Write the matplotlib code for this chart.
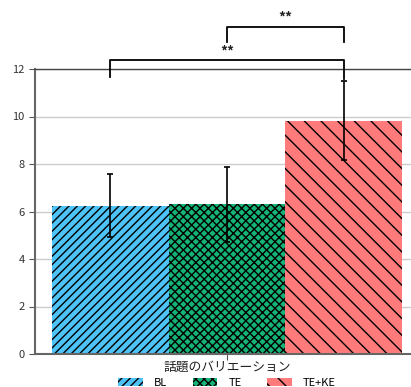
import matplotlib
matplotlib.use("Agg")
import matplotlib.pyplot as plt
from matplotlib.patches import Patch

plt.rcParams['font.family'] = ['Noto Sans CJK JP', 'DejaVu Sans']
plt.rcParams['hatch.linewidth'] = 1.0

groups = ["BL", "TE", "TE+KE"]
means = [6.25, 6.30, 9.82]
errs = [1.32, 1.58, 1.67]
colors = ["#4dc3f8", "#14b377", "#ff7b7b"]
hatches = ["////", "xxxx", "\\\\"]
xlabel = "話題のバリエーション"
yticks = [0, 2, 4, 6, 8, 10, 12]

# significance brackets: (from group, to group, bracket height, leg bottoms, label)
sig = [(0, 2, 12.38, (11.66, 11.6), "**"),
       (1, 2, 13.77, (13.14, 13.14), "**")]

fig = plt.figure(figsize=(4.11, 3.87), dpi=100)
ax = fig.add_axes([35 / 411, 33 / 387, 385 / 411, 285 / 387])

w = 0.8 / len(groups)
xs = [-0.4 + w / 2 + i * w for i in range(len(groups))]

for x, m, e, c, h in zip(xs, means, errs, colors, hatches):
    ax.bar(x, m, width=w, color=c, hatch=h, edgecolor="black", linewidth=0, zorder=2)
    ax.errorbar(x, m, yerr=e, color="black", lw=1.2, capsize=2.3, capthick=1.2, zorder=3)

for i, j, top, (lo1, lo2), lab in sig:
    x1, x2 = xs[i], xs[j]
    ax.plot([x1, x1, x2, x2], [lo1, top, top, lo2], color="black", lw=1.3,
            clip_on=False, solid_joinstyle="round", zorder=4)
    ax.text((x1 + x2) / 2, top + 0.08, lab, ha="center", va="bottom",
            fontsize=10, fontweight="bold", color="#222222", clip_on=False)

ax.set_xlim(-0.4389, -0.4389 + 385 / 437.5)
ax.set_ylim(0, 12)
ax.set_yticks(yticks)
ax.set_xticks([0])
ax.set_xticklabels([""])
ax.tick_params(axis="y", labelsize=8, colors="#555555", labelcolor="#333333", length=4)
ax.tick_params(axis="x", length=4, colors="#555555")
ax.yaxis.grid(True, color="#cccccc", lw=1, zorder=0)
ax.set_axisbelow(True)
for s in ["left", "bottom"]:
    ax.spines[s].set_color("#666666")
    ax.spines[s].set_linewidth(1.5)
ax.spines["top"].set_color("#444444")
ax.spines["top"].set_linewidth(1.0)
ax.spines["right"].set_visible(False)

fig.text(227 / 411, (387 - 367) / 387, xlabel, ha="center", va="center",
         fontsize=9.2, color="#222222")

handles = [Patch(facecolor=c, hatch=h, edgecolor="black", linewidth=0)
           for c, h in zip(colors, hatches)]
fig.legend(handles, groups, loc="center", bbox_to_anchor=(227 / 411, 4 / 387),
           ncol=3, frameon=False, fontsize=8, handlelength=2.2, handleheight=0.8,
           columnspacing=2.3, handletextpad=1.0)

fig.savefig("out.png", dpi=100)
